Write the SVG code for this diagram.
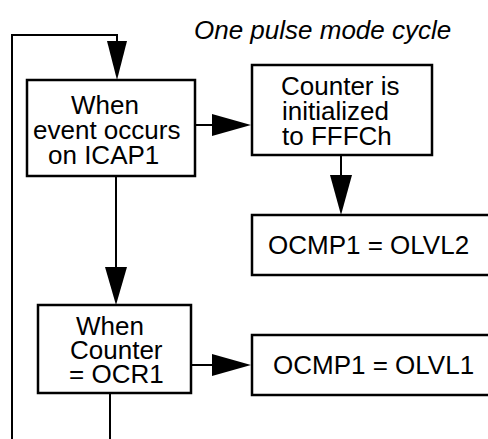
<svg xmlns="http://www.w3.org/2000/svg" width="488" height="439" viewBox="0 0 488 439">
<style>
.box{fill:#fff;stroke:#000;stroke-width:2.5}
.ln{fill:none;stroke:#000;stroke-width:2}
.hd{fill:#000;stroke:none}
text{font-family:"Liberation Sans",Arial,sans-serif;font-size:26px;fill:#000}
.title{font-style:italic}
</style>
<rect width="488" height="439" fill="#fff"/>
<text class="title" x="194" y="39">One pulse mode cycle</text>
<g id="connectors">
<polyline class="ln" points="110,393 110,439"/>
<polyline class="ln" points="12,439 12,35 117,35 117,42"/>
<polygon class="hd" points="107,41 127,41 117,80"/>
<line class="ln" x1="195" y1="125" x2="213" y2="125"/>
<polygon class="hd" points="212,114 212,136 251,125"/>
<line class="ln" x1="341" y1="155" x2="341" y2="176"/>
<polygon class="hd" points="330,175 352,175 341,215"/>
<line class="ln" x1="116" y1="176" x2="116" y2="268"/>
<polygon class="hd" points="105,267 127,267 116,305"/>
<line class="ln" x1="191" y1="365" x2="213" y2="365"/>
<polygon class="hd" points="212,354 212,376 251,365"/>
</g>
<g id="n1">
<rect class="box" x="27" y="80" width="168" height="96"/>
<text x="71" y="114">When</text>
<text x="33" y="139">event occurs</text>
<text x="48" y="164">on ICAP1</text>
</g>
<g id="n2">
<rect class="box" x="252" y="65" width="180" height="90"/>
<text x="281" y="95">Counter is</text>
<text x="282" y="120">initialized</text>
<text x="282" y="145">to FFFCh</text>
</g>
<g id="n3">
<rect class="box" x="252" y="215" width="250" height="60"/>
<text x="268" y="254">OCMP1 = OLVL2</text>
</g>
<g id="n4">
<rect class="box" x="38" y="305" width="153" height="88"/>
<text x="76" y="335">When</text>
<text x="70" y="359">Counter</text>
<text x="69" y="383">= OCR1</text>
</g>
<g id="n5">
<rect class="box" x="252" y="335" width="250" height="60"/>
<text x="273" y="374">OCMP1 = OLVL1</text>
</g>
</svg>
